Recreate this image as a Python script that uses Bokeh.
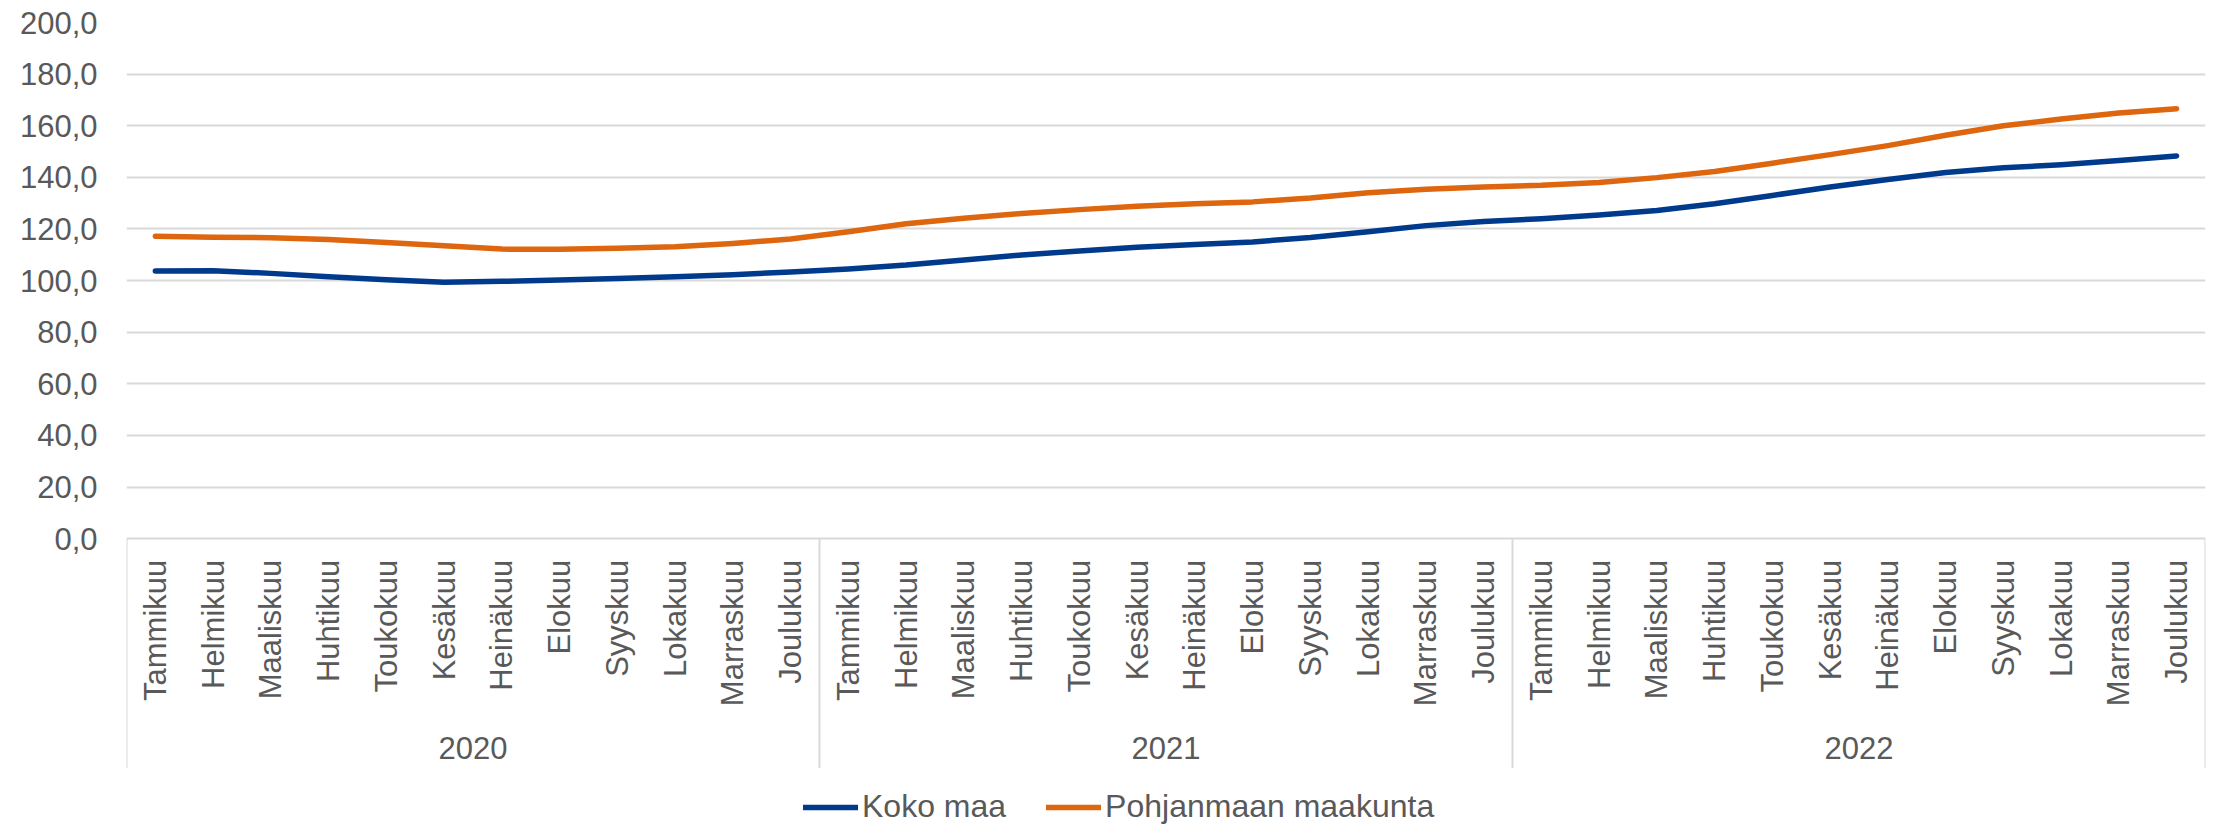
from math import pi
from bokeh.plotting import figure
from bokeh.models import (FactorRange, Range1d, FixedTicker, Legend, LegendItem,
                          ColumnDataSource)
from bokeh.core.properties import value
from bokeh.embed import file_html
from bokeh.resources import INLINE

# ---------------- data ----------------
years = ["2020", "2021", "2022"]
months = ["Tammikuu", "Helmikuu", "Maaliskuu", "Huhtikuu", "Toukokuu", "Kesäkuu",
          "Heinäkuu", "Elokuu", "Syyskuu", "Lokakuu", "Marraskuu", "Joulukuu"]

koko_maa = [103.7, 103.8, 102.8, 101.5, 100.3, 99.4, 99.7, 100.2, 100.8, 101.5, 102.3, 103.3,
            104.5, 106.0, 108.0, 109.9, 111.5, 112.9, 114.0, 115.0, 116.7, 118.9, 121.3, 122.9,
            124.0, 125.4, 127.2, 129.8, 133.0, 136.3, 139.2, 141.9, 143.7, 144.9, 146.5, 148.3]
pohjanmaa = [117.2, 116.8, 116.6, 115.9, 114.8, 113.5, 112.2, 112.1, 112.5, 113.1, 114.4, 116.1,
             118.9, 122.0, 124.2, 126.0, 127.5, 128.8, 129.8, 130.5, 132.0, 134.0, 135.4, 136.3,
             136.9, 138.0, 139.9, 142.3, 145.5, 148.8, 152.3, 156.3, 160.0, 162.6, 164.9, 166.6]

series_names = ["Koko maa", "Pohjanmaan maakunta"]
y_ticks = [0, 20, 40, 60, 80, 100, 120, 140, 160, 180, 200]
y_tick_labels = ["0,0", "20,0", "40,0", "60,0", "80,0", "100,0", "120,0", "140,0",
                 "160,0", "180,0", "200,0"]

# ---------------- style ----------------
FONT = "Liberation Sans"
FS = "31px"
TEXT_COLOR = "#595959"
GRID = "#D9D9D9"
BLUE = "#003A8C"
ORANGE = "#DD660F"

W, H = 2206, 825
TOP, BOTTOM, LEFT, RIGHT = 22, 0, 126, 1
PX_PER_UNIT = 516.2 / 200.0          # vertical scale of the value axis
SEP_PX = 229.5                        # depth of the category-axis band below 0
frame_h = H - TOP - BOTTOM
y_end = y_ticks[-1]
y_start = y_end - frame_h / PX_PER_UNIT
sep_bottom = -SEP_PX / PX_PER_UNIT

factors = [(y, m) for y in years for m in months]

p = figure(width=W, height=H,
           x_range=FactorRange(factors=factors, group_padding=0, subgroup_padding=0,
                               factor_padding=0, range_padding=0),
           y_range=Range1d(y_start, y_end),
           output_backend="svg", toolbar_location=None,
           min_border_left=LEFT, min_border_right=RIGHT,
           min_border_top=TOP, min_border_bottom=BOTTOM)

p.outline_line_color = None
p.xaxis.visible = False
p.xgrid.visible = False

p.yaxis.ticker = FixedTicker(ticks=y_ticks)
p.yaxis.major_label_overrides = {t: l for t, l in zip(y_ticks, y_tick_labels)}
p.yaxis.axis_line_color = None
p.yaxis.major_tick_line_color = None
p.yaxis.minor_tick_line_color = None
p.yaxis.major_tick_out = 0
p.yaxis.major_tick_in = 0
p.yaxis.major_label_standoff = 29
p.yaxis.major_label_text_font = FONT
p.yaxis.major_label_text_font_size = FS
p.yaxis.major_label_text_color = TEXT_COLOR
p.ygrid.grid_line_color = GRID
p.ygrid.grid_line_width = 2

# lines
r1 = p.line(x=factors, y=koko_maa, line_color=BLUE, line_width=5.5,
            line_cap="round", line_join="round")
r2 = p.line(x=factors, y=pohjanmaa, line_color=ORANGE, line_width=5.5,
            line_cap="round", line_join="round")

# month labels
msrc = ColumnDataSource(dict(x=factors, y=[0] * len(factors), text=[m for _, m in factors]))
p.text(x="x", y="y", text="text", source=msrc, angle=pi / 2, text_align="right",
       text_baseline="middle", y_offset=21, text_font=value(FONT), text_font_size=FS,
       text_color=TEXT_COLOR)

# year labels
ysrc = ColumnDataSource(dict(x=years, y=[0] * len(years), text=years))
p.text(x="x", y="y", text="text", source=ysrc, text_align="center",
       text_baseline="middle", y_offset=209, text_font=value(FONT), text_font_size=FS,
       text_color=TEXT_COLOR)

# group separators in the axis area
sep_x = [(y, months[0], -0.5) for y in years] + [(years[-1], months[-1], 0.5)]
ssrc = ColumnDataSource(dict(x=sep_x, y0=[0] * len(sep_x), y1=[sep_bottom] * len(sep_x)))
p.segment(x0="x", y0="y0", x1="x", y1="y1", source=ssrc, line_color=GRID, line_width=2)

legend = Legend(items=[LegendItem(label=series_names[0], renderers=[r1]),
                       LegendItem(label=series_names[1], renderers=[r2])],
                orientation="horizontal", location=(677, 0), padding=0, margin=0,
                spacing=40, label_standoff=4, glyph_width=55, glyph_height=20,
                label_text_font=FONT, label_text_font_size="32px",
                label_text_color=TEXT_COLOR, border_line_color=None,
                background_fill_alpha=0)
p.add_layout(legend)

open("out.html", "w").write(file_html(p, INLINE))
